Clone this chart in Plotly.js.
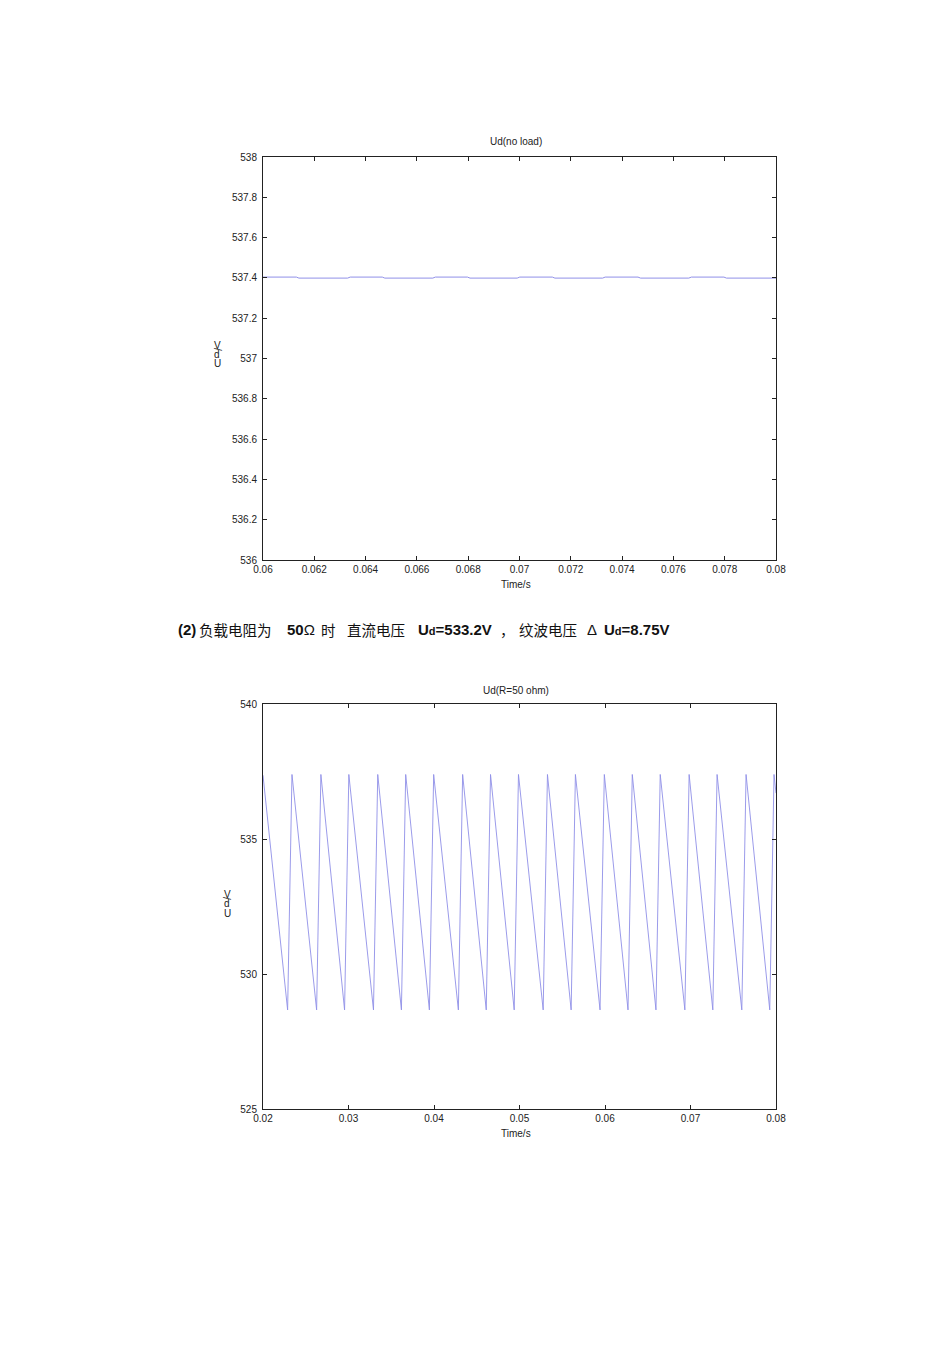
<!DOCTYPE html>
<html>
<head>
<meta charset="utf-8">
<script src="https://cdn.plot.ly/plotly-3.0.1.min.js"></script>
<style>
  html, body { margin: 0; padding: 0; background: #fff; }
  #chart { width: 950px; height: 1345px; }
</style>
</head>
<body>
<div id="chart"></div>
<script>
// Ud(no load): tiny 300 Hz ripple around 537.4 V
var noLoadTime = [0.06, 0.0613, 0.0614, 0.0633, 0.0634, 0.06465, 0.06475, 0.06662,
  0.06672, 0.06797, 0.06807, 0.06991, 0.07001, 0.07128, 0.07138, 0.07324,
  0.07334, 0.07462, 0.07472, 0.0766, 0.0767, 0.07797, 0.07807, 0.08];
var noLoadUd = [537.404, 537.404, 537.399, 537.399, 537.404, 537.404, 537.399, 537.399,
  537.404, 537.404, 537.399, 537.399, 537.404, 537.404, 537.399, 537.399,
  537.404, 537.404, 537.399, 537.399, 537.404, 537.404, 537.399, 537.399];

// Ud(R=50 ohm): sawtooth, peak / trough corners
var loadTime = [0.02,
  0.02288, 0.02339, 0.02627, 0.02677, 0.02954, 0.03004, 0.03292, 0.03342,
  0.03619, 0.03669, 0.03946, 0.03996, 0.04285, 0.04335, 0.04611, 0.04661,
  0.04938, 0.04988, 0.05277, 0.05327, 0.05604, 0.05654, 0.05942, 0.05992,
  0.06269, 0.06319, 0.06596, 0.06646, 0.06934, 0.06984, 0.07261, 0.07311,
  0.07600, 0.07650, 0.07927, 0.07977,
  0.08];
var loadUd = [537.36,
  528.67, 537.39, 528.67, 537.39, 528.67, 537.39, 528.67, 537.39,
  528.67, 537.39, 528.67, 537.39, 528.67, 537.39, 528.67, 537.39,
  528.67, 537.39, 528.67, 537.39, 528.67, 537.39, 528.67, 537.39,
  528.67, 537.39, 528.67, 537.39, 528.67, 537.39, 528.67, 537.39,
  528.67, 537.39, 528.67, 537.39,
  536.7];

var topXTicks = [0.06, 0.062, 0.064, 0.066, 0.068, 0.07, 0.072, 0.074, 0.076, 0.078, 0.08];
var topYTicks = [536, 536.2, 536.4, 536.6, 536.8, 537, 537.2, 537.4, 537.6, 537.8, 538];
var botXTicks = [0.02, 0.03, 0.04, 0.05, 0.06, 0.07, 0.08];
var botYTicks = [525, 530, 535, 540];

var W = 950, H = 1345;
function px(x) { return x / W; }
function py(y) { return 1 - y / H; }

var lineColor = '#9090e8';
var tickFont = {family: 'Liberation Sans, Arial, sans-serif', size: 10, color: '#222'};

function axis(extra) {
  var a = {
    showline: true, linecolor: '#222', linewidth: 1, mirror: 'ticks',
    ticks: 'inside', ticklen: 4, tickcolor: '#222', tickwidth: 1,
    showgrid: false, zeroline: false, tickfont: tickFont,
    fixedrange: true
  };
  for (var k in extra) a[k] = extra[k];
  return a;
}

var data = [
  {x: noLoadTime, y: noLoadUd, type: 'scatter', mode: 'lines',
   line: {color: lineColor, width: 1}, xaxis: 'x', yaxis: 'y', hoverinfo: 'skip'},
  {x: loadTime, y: loadUd, type: 'scatter', mode: 'lines',
   line: {color: lineColor, width: 0.9}, xaxis: 'x2', yaxis: 'y2', hoverinfo: 'skip'}
];

var labelFont = {family: 'Liberation Sans, Arial, sans-serif', size: 10, color: '#222'};
var boldFont = {family: 'Liberation Sans, Arial, sans-serif', size: 15, color: '#111'};
var cjkFont = {family: 'Noto Sans CJK SC, sans-serif', size: 14.5, color: '#111'};

function note(text, x, y, font, extra) {
  var a = {text: text, x: px(x), y: py(y), xref: 'paper', yref: 'paper',
    showarrow: false, xanchor: 'center', yanchor: 'middle', font: font};
  for (var k in extra) a[k] = extra[k];
  return a;
}
var L = {xanchor: 'left'};

var annotations = [
  note('Ud(no load)', 516, 141, labelFont),
  note('Time/s', 516, 585, labelFont),
  note('V', 217, 345, labelFont),
  note('/', 217, 349, labelFont, {textangle: 90}),
  note('d', 217, 354, labelFont),
  note('U', 217, 363, labelFont),

  note('Ud(R=50 ohm)', 516, 690, labelFont),
  note('Time/s', 516, 1133, labelFont),
  note('V', 227, 894, labelFont),
  note('/', 227, 898, labelFont, {textangle: 90}),
  note('d', 227, 903, labelFont),
  note('U', 227, 913, labelFont),

  note('<b>(2)</b>', 176, 630, boldFont, L),
  note('负载电阻为', 197, 630, cjkFont, L),
  note('<b>50</b>Ω', 285, 630, boldFont, L),
  note('时', 319, 630, cjkFont, L),
  note('直流电压', 345, 630, cjkFont, L),
  note('<b>U<span style="font-size:11px">d</span>=533.2V</b>', 416, 630, boldFont, L),
  note('，', 498, 630, cjkFont, L),
  note('纹波电压', 517, 630, cjkFont, L),
  note('Δ', 585, 630, boldFont, L),
  note('<b>U<span style="font-size:11px">d</span>=8.75V</b>', 602, 630, boldFont, L)
];

var layout = {
  width: W, height: H,
  margin: {l: 0, r: 0, t: 0, b: 0},
  paper_bgcolor: '#fff', plot_bgcolor: '#fff',
  showlegend: false,
  hovermode: false,
  xaxis: axis({domain: [px(263), px(776)], anchor: 'y', range: [0.06, 0.08],
    tickvals: topXTicks, ticklabelstandoff: 0}),
  yaxis: axis({domain: [py(560), py(157)], anchor: 'x', range: [536, 538],
    tickvals: topYTicks, ticklabelstandoff: 3}),
  xaxis2: axis({domain: [px(263), px(776)], anchor: 'y2', range: [0.02, 0.08],
    tickvals: botXTicks, ticklabelstandoff: 0}),
  yaxis2: axis({domain: [py(1109), py(704)], anchor: 'x2', range: [525, 540],
    tickvals: botYTicks, ticklabelstandoff: 3}),
  annotations: annotations
};

Plotly.newPlot('chart', data, layout, {displayModeBar: false, staticPlot: true});
</script>
</body>
</html>
